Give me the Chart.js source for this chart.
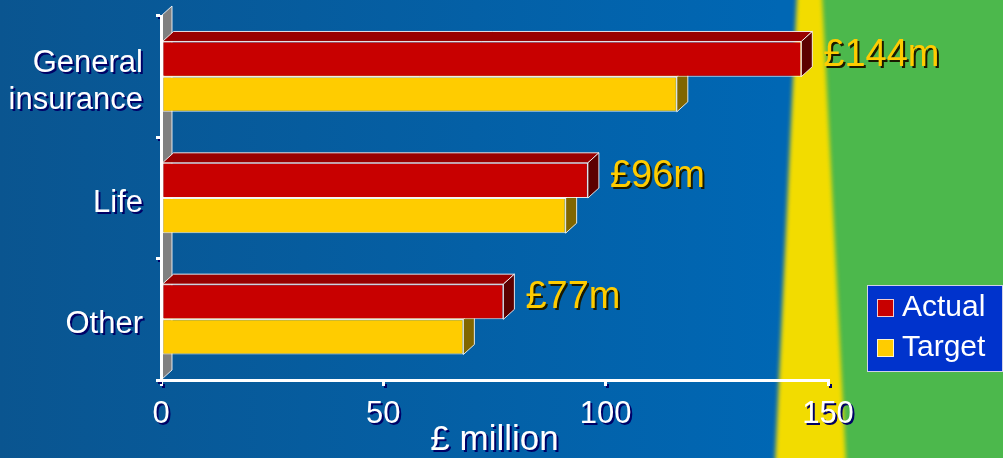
<!DOCTYPE html>
<html>
<head>
<meta charset="utf-8">
<script src="https://cdn.jsdelivr.net/npm/chart.js@4/dist/chart.umd.min.js"></script>
<style>
  html, body { margin: 0; padding: 0; background: #0062ad; }
  #wrap { width: 1003px; height: 458px; }
</style>
</head>
<body>
<div id="wrap"><canvas id="grafico" width="1003" height="458"></canvas></div>
<script>
// Datos
const categorias = [["General", "insurance"], "Life", "Other"];
const actual = [144, 96, 77];
const target = [116, 91, 68];
const ejeX = { min: 0, max: 150, paso: 50 };

const FUENTE = "'Liberation Sans', Arial, sans-serif";
const DX = 11, DY = 10; // profundidad 3D

// Fondo azul + franja amarilla + verde
const fondo = {
  id: 'fondo',
  beforeDraw(chart) {
    const ctx = chart.ctx, w = chart.width, h = chart.height;
    ctx.save();
    const g = ctx.createLinearGradient(0, 0, 780, 0);
    g.addColorStop(0, '#0a5590');
    g.addColorStop(1, '#0067b4');
    ctx.fillStyle = g;
    ctx.fillRect(0, 0, w, h);
    ctx.fillStyle = '#4cb84c';
    ctx.fillRect(800, 0, w - 800, h);
    ctx.filter = 'blur(2px)';
    ctx.fillStyle = '#f2dc00';
    ctx.beginPath();
    ctx.moveTo(797, -5); ctx.lineTo(822, -5);
    ctx.lineTo(846, h + 5); ctx.lineTo(775, h + 5);
    ctx.closePath();
    ctx.fill();
    ctx.restore();
    // sombra para los textos de los ejes
    ctx.shadowColor = '#000066';
    ctx.shadowOffsetX = 2;
    ctx.shadowOffsetY = 2;
    ctx.shadowBlur = 0;
  }
};

function poligono(ctx, pts, relleno) {
  ctx.beginPath();
  ctx.moveTo(pts[0][0], pts[0][1]);
  for (let i = 1; i < pts.length; i++) ctx.lineTo(pts[i][0], pts[i][1]);
  ctx.closePath();
  ctx.fillStyle = relleno;
  ctx.fill();
  ctx.stroke();
}

// Caras 3D de las barras y pared gris
const efecto3d = {
  id: 'efecto3d',
  beforeDatasetsDraw(chart) {
    const ctx = chart.ctx, a = chart.chartArea;
    ctx.shadowColor = 'rgba(0,0,0,0)';
    ctx.shadowOffsetX = 0;
    ctx.shadowOffsetY = 0;
    ctx.save();
    ctx.lineWidth = 1;
    ctx.strokeStyle = 'rgba(255,255,255,0.85)';
    poligono(ctx, [[a.left, a.top], [a.left + DX, a.top - DY], [a.left + DX, a.bottom - DY], [a.left, a.bottom]], '#808080');
    for (let d = chart.data.datasets.length - 1; d >= 0; d--) {
      const ds = chart.data.datasets[d];
      chart.getDatasetMeta(d).data.forEach(bar => {
        const top = bar.y - bar.height / 2, bot = bar.y + bar.height / 2;
        poligono(ctx, [[bar.base, top], [bar.base + DX, top - DY], [bar.x + DX, top - DY], [bar.x, top]], ds.colorArriba);
        poligono(ctx, [[bar.x, top], [bar.x + DX, top - DY], [bar.x + DX, bot - DY], [bar.x, bot]], ds.colorLado);
      });
    }
    ctx.restore();
  },
  afterDatasetsDraw(chart) {
    const ctx = chart.ctx;
    ctx.save();
    ctx.font = '38px ' + FUENTE;
    ctx.textAlign = 'left';
    ctx.textBaseline = 'middle';
    ctx.fillStyle = '#ffcc00';
    ctx.shadowColor = '#1a1a00';
    ctx.shadowOffsetX = 2;
    ctx.shadowOffsetY = 2;
    chart.getDatasetMeta(0).data.forEach((bar, i) => {
      ctx.fillText('£' + actual[i] + 'm', bar.x + DX + 11, bar.y - 4);
    });
    ctx.restore();
  },
  afterDraw(chart) {
    // leyenda
    const ctx = chart.ctx;
    ctx.save();
    ctx.fillStyle = '#0033cc';
    ctx.strokeStyle = '#d0d0e8';
    ctx.lineWidth = 1;
    ctx.fillRect(867, 285, 136, 87);
    ctx.strokeRect(867.5, 285.5, 135, 86);
    ctx.font = '30px ' + FUENTE;
    ctx.textBaseline = 'middle';
    chart.data.datasets.forEach((ds, i) => {
      const y = 299 + i * 40;
      ctx.fillStyle = ds.backgroundColor;
      ctx.fillRect(877, y, 17, 18);
      ctx.strokeStyle = 'rgba(255,255,255,0.8)';
      ctx.strokeRect(877.5, y + 0.5, 16, 17);
      ctx.fillStyle = '#ffffff';
      ctx.fillText(ds.label, 902, y + 9);
    });
    ctx.restore();
  }
};

new Chart(document.getElementById('grafico'), {
  type: 'bar',
  data: {
    labels: categorias,
    datasets: [
      { label: 'Actual', data: actual, backgroundColor: '#c80000', colorArriba: '#990000', colorLado: '#5c0000',
        borderColor: 'rgba(255,255,255,0.85)', borderWidth: 1, borderSkipped: false,
        categoryPercentage: 0.58, barPercentage: 1.0 },
      { label: 'Target', data: target, backgroundColor: '#ffcc00', colorArriba: '#b38f00', colorLado: '#806600',
        borderColor: 'rgba(255,255,255,0.85)', borderWidth: 1, borderSkipped: false,
        categoryPercentage: 0.58, barPercentage: 1.0 }
    ]
  },
  options: {
    indexAxis: 'y',
    responsive: false,
    animation: false,
    layout: { padding: { top: 16, right: 175, bottom: 0, left: 0 } },
    plugins: { legend: { display: false }, tooltip: { enabled: false } },
    scales: {
      x: {
        min: ejeX.min, max: ejeX.max,
        afterFit: s => { s.height = 78; },
        ticks: { stepSize: ejeX.paso, color: '#ffffff', font: { family: FUENTE, size: 31 }, padding: 10 },
        grid: { drawOnChartArea: false, drawTicks: true, tickLength: 6, color: '#ffffff', lineWidth: 3 },
        border: { color: '#ffffff', width: 3, z: 1 },
        title: { display: true, text: '£ million', color: '#ffffff',
                 font: { family: FUENTE, size: 35, lineHeight: 1 }, padding: { top: 0, bottom: 0 } }
      },
      y: {
        afterFit: s => { s.width = 161; s.paddingTop = 0; s.paddingBottom = 0; },
        ticks: { color: '#ffffff', font: { family: FUENTE, size: 31 }, padding: 13, labelOffset: 5 },
        grid: { drawOnChartArea: false, drawTicks: true, tickLength: 5, color: '#ffffff', lineWidth: 3, offset: true },
        border: { color: '#ffffff', width: 3, z: 1 }
      }
    }
  },
  plugins: [fondo, efecto3d]
});
</script>
</body>
</html>
